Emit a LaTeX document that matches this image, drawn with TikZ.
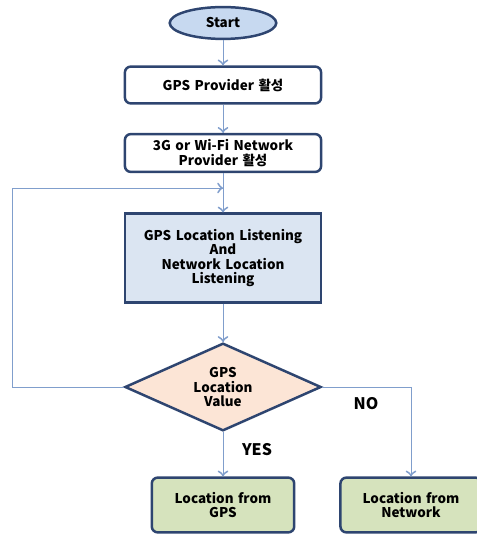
\documentclass[tikz,border=0pt]{standalone}
\usepackage{fontspec}
\setmainfont{Noto Sans CJK KR}
\usepackage{tikz}
\usetikzlibrary{arrows}
\usetikzlibrary{decorations.markings}
\usetikzlibrary{positioning}
\usetikzlibrary{shapes.geometric}
\tikzset{->/.style = {decoration={markings,
                                  mark=at position 1 with {\arrow[scale=2.1]{to}}},
                      postaction={decorate}}}
\definecolor{mline}{rgb}{0.50, 0.62, 0.80}
\definecolor{mborder}{rgb}{0.18, 0.27, 0.44}
\definecolor{mstart}{rgb}{0.78, 0.85, 0.94}
\definecolor{mlisten}{rgb}{0.86, 0.90, 0.95}
\definecolor{mdecide}{rgb}{0.99, 0.90, 0.84}
\definecolor{mresult}{rgb}{0.84, 0.89, 0.74}
\tikzset{box/.style = {draw = mborder, line width = 2.5, rounded corners = 6,
                       fill = white, align = center, text width = 190,
                       font = \bfseries\fontsize{13.5}{14.3}\selectfont}}
\tikzset{flow/.style = {mline, line width = 0.9}}

\begin{document}
\begin{tikzpicture}[x = 1bp, y = -1bp]
      \useasboundingbox (0, 0) rectangle (477, 536);

      \node [box, ellipse, rounded corners = 0, fill = mstart, text width = {},
             minimum width = 107, minimum height = 32, inner sep = 0] (start) at (223, 23) {Start};
      \node [box, minimum width = 197, minimum height = 37] (gpsprov) at (223, 85) {GPS Provider 활성};
      \node [box, minimum width = 197, minimum height = 38] (netprov) at (223, 153)
            {3G or Wi-Fi Network\\ Provider 활성};
      \node [box, rounded corners = 0, fill = mlisten, minimum width = 197, minimum height = 89]
            (listen) at (223, 258)
            {GPS Location Listening\\ And\\ Network Location\\ Listening};
      \node [box, diamond, rounded corners = 0, fill = mdecide, text width = {}, aspect = 2.2,
             inner sep = 0, minimum width = 197, minimum height = 88]
            (decide) at (223, 387) {GPS\\ Location\\ Value};
      \node [box, fill = mresult, text width = 135, minimum width = 143, minimum height = 55]
            (gpsloc) at (223, 505) {Location from\\ GPS};
      \node [box, fill = mresult, text width = 135, minimum width = 137, minimum height = 55]
            (netloc) at (411, 505) {Location from\\ Network};

      \coordinate (join) at (223, 188);
      \coordinate (loop) at (12, 188);

      \draw [flow, ->] (start) -- (gpsprov);
      \draw [flow, ->] (gpsprov) -- (netprov);
      \draw [flow, ->] (netprov) -- (listen);
      \draw [flow, ->] (listen) -- (decide);
      \draw [flow, ->] (decide.west) -| (loop) -- (join);
      \draw [flow, ->] (decide.south) -- (gpsloc.north);
      \draw [flow, ->] (decide.east) -| (netloc.north);

      \node [font = \bfseries\fontsize{16}{18}\selectfont] (yes) at (257, 450) {YES};
      \node [font = \bfseries\fontsize{16}{18}\selectfont] (no) at (366, 404) {NO};
    \end{tikzpicture}
\end{document}
